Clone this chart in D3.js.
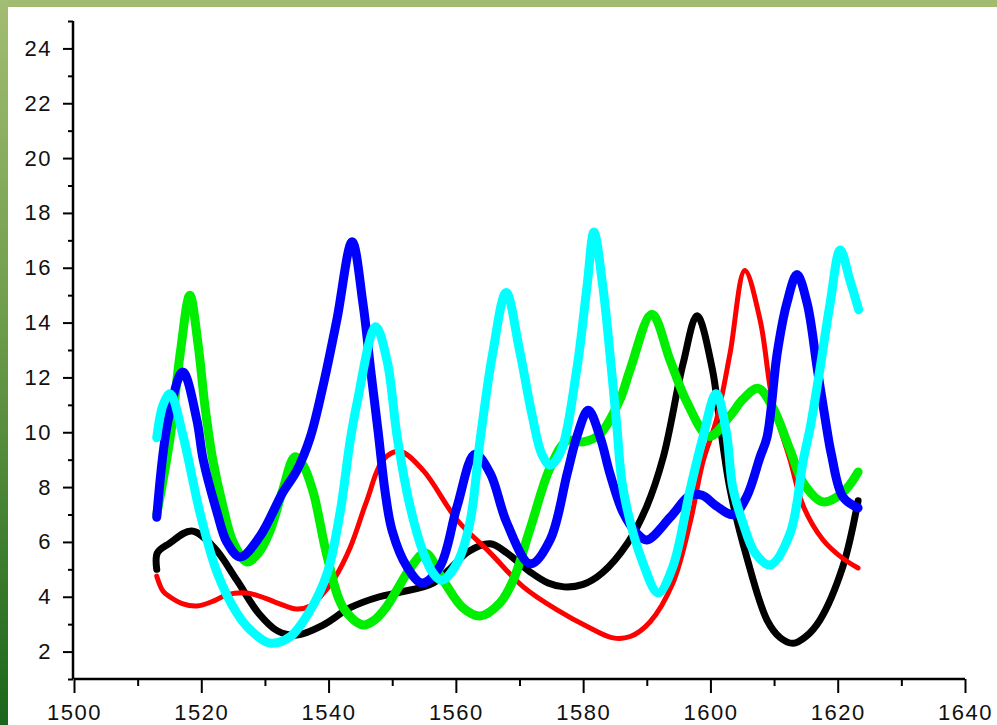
<!DOCTYPE html>
<html>
<head>
<meta charset="utf-8">
<script src="https://cdn.jsdelivr.net/npm/d3@7/dist/d3.min.js"></script>
<style>
html,body{margin:0;padding:0;background:#fff;}
svg{display:block;}
text{font-family:"Liberation Sans",Arial,sans-serif;}
</style>
</head>
<body>
<svg id="chart" width="997" height="725"></svg>
<script>
// ---- data (year, value) ----
const xTicks = [1500,1520,1540,1560,1580,1600,1620,1640];
const yTicks = [2,4,6,8,10,12,14,16,18,20,22,24];

const black = [[1513,5.0],[1513.1,5.6],[1515,5.95],[1518.5,6.4],[1522,5.8],[1525.6,4.6],[1529,3.4],[1532,2.75],[1535,2.6],[1539,2.95],[1543.4,3.6],[1548,4.0],[1551,4.15],[1556.4,4.5],[1559,5.0],[1562,5.65],[1565.4,5.93],[1568,5.6],[1571.7,4.9],[1574.5,4.5],[1577,4.36],[1580,4.45],[1583,4.87],[1587,5.96],[1590,7.3],[1592.6,9.1],[1595.7,12.5],[1597.9,14.25],[1600.3,12.3],[1601.5,10.3],[1603.1,7.9],[1605.7,5.45],[1608.9,3.15],[1611,2.5],[1613,2.3],[1615,2.55],[1617.2,3.15],[1620.8,5.1],[1623.2,7.5]];

const red = [[1513,4.75],[1514,4.2],[1515.1,3.99],[1517,3.75],[1519.3,3.66],[1522,3.85],[1524,4.07],[1527.2,4.14],[1530,3.95],[1532,3.77],[1535,3.55],[1537,3.65],[1538.7,4.0],[1541,4.7],[1543.4,5.8],[1546,7.5],[1548.6,9.0],[1551.2,9.3],[1554.9,8.6],[1560.2,6.8],[1565.4,5.6],[1570.6,4.36],[1575.9,3.52],[1581.1,2.86],[1584.7,2.5],[1587.4,2.55],[1590.5,3.08],[1594.1,4.5],[1596.8,6.7],[1598.8,8.9],[1601,10.5],[1603.1,12.9],[1605.4,15.9],[1607.8,14.1],[1609.8,11.1],[1612.5,9.0],[1614.6,7.3],[1617.7,6.07],[1620.8,5.4],[1623.2,5.05]];

const green = [[1513,7.0],[1515.1,9.8],[1516.7,12.9],[1518.2,15.0],[1519.5,13.2],[1520.6,10.9],[1521.8,9.0],[1523.4,7.3],[1525,6.0],[1527.2,5.27],[1529,5.6],[1530.8,6.4],[1532.8,7.9],[1534.7,9.1],[1536,8.8],[1537.6,7.8],[1539.8,5.45],[1542.3,3.6],[1545.4,2.97],[1547.2,3.15],[1549,3.6],[1551,4.35],[1553,5.1],[1555.2,5.6],[1558,4.6],[1561.1,3.6],[1563.8,3.3],[1566.9,3.77],[1569,4.6],[1571.7,6.5],[1574.8,8.7],[1577.5,9.7],[1580,9.65],[1582.5,9.9],[1585.8,11.2],[1587.4,12.3],[1590.8,14.3],[1593.7,12.6],[1596.3,11.1],[1599.8,9.85],[1603.1,10.6],[1605.1,11.2],[1607.5,11.6],[1609.8,10.9],[1612.5,9.36],[1614.6,8.15],[1617.7,7.46],[1620.8,7.8],[1623.2,8.55]];

const blue = [[1513,6.9],[1514.8,10.45],[1517.1,12.2],[1519.3,10.45],[1520.3,9.0],[1522.5,7.06],[1524,6.0],[1526.1,5.45],[1529.2,6.2],[1532.8,7.8],[1535,8.6],[1537.1,9.8],[1539.1,11.66],[1541.3,14.1],[1543.7,16.95],[1545.4,14.7],[1546.6,12.3],[1547.8,10.0],[1548.9,7.8],[1550,6.4],[1552.3,5.1],[1554.7,4.5],[1557.5,5.1],[1560.2,7.3],[1563,9.2],[1565.4,8.5],[1568,6.7],[1571.7,5.2],[1574.8,6.07],[1577.5,8.5],[1579,9.83],[1580.8,10.8],[1582.7,9.8],[1584.2,8.5],[1586.3,7.06],[1588.5,6.3],[1590,6.07],[1593.7,6.9],[1596.8,7.7],[1598.7,7.7],[1601,7.3],[1603.6,7.0],[1605.7,7.65],[1607.8,9.1],[1608.9,9.83],[1610.5,12.9],[1612,14.7],[1613.6,15.75],[1615.2,14.7],[1616.8,12.3],[1618.3,10.1],[1619,9.2],[1620.8,7.65],[1623.2,7.24]];

const cyan = [[1513,9.8],[1514,11.0],[1515.1,11.4],[1517.1,9.9],[1519.8,7.06],[1522.5,4.87],[1525.6,3.4],[1527.7,2.79],[1530.8,2.31],[1533.9,2.53],[1537.1,3.5],[1539.8,4.87],[1541.8,7.06],[1543.4,9.7],[1544.5,11.1],[1547.4,13.85],[1549.2,12.6],[1550.8,9.8],[1552.8,7.3],[1554.9,5.6],[1556.4,4.87],[1557.8,4.6],[1560.2,5.23],[1562.2,6.7],[1563.8,9.7],[1565.8,12.9],[1567.9,15.1],[1570,13.0],[1572,10.6],[1573.5,9.2],[1574.8,8.8],[1576.5,9.3],[1579,12.3],[1580.6,15.3],[1581.7,17.3],[1583.1,15.3],[1584.2,12.9],[1585.3,10.2],[1586.3,7.9],[1589.4,5.23],[1591.8,4.14],[1594.1,5.1],[1596.8,7.9],[1598.7,9.7],[1600.9,11.4],[1602.5,10.0],[1603.5,8.0],[1605.1,6.7],[1607,5.6],[1609.4,5.16],[1612.5,6.3],[1614.6,9.0],[1615.7,10.2],[1617.2,12.3],[1618.8,14.7],[1620.4,16.65],[1621.9,15.56],[1623.3,14.47]];

const seriesList = [
  {data: black, color: "#000000", width: 7},
  {data: red,   color: "#ff0000", width: 5},
  {data: green, color: "#00ee00", width: 9},
  {data: blue,  color: "#0000ff", width: 9},
  {data: cyan,  color: "#00ffff", width: 9}
];

// ---- drawing ----
const svg = d3.select("#chart");
const W = 997, H = 725;

const defs = svg.append("defs");
const lg = defs.append("linearGradient").attr("id","leftGrad").attr("x1",0).attr("y1",0).attr("x2",0).attr("y2",1);
lg.append("stop").attr("offset","0%").attr("stop-color","#a3bd72");
lg.append("stop").attr("offset","45%").attr("stop-color","#6c9c4a");
lg.append("stop").attr("offset","100%").attr("stop-color","#1a661a");

svg.append("rect").attr("x",0).attr("y",0).attr("width",W).attr("height",H).attr("fill","#fff");
svg.append("rect").attr("x",0).attr("y",0).attr("width",W).attr("height",7).attr("fill","#a1bc70");
svg.append("rect").attr("x",0).attr("y",0).attr("width",8).attr("height",H).attr("fill","url(#leftGrad)");

const x = d3.scaleLinear().domain([1500,1640]).range([74,965]);
const y = d3.scaleLinear().domain([1,25]).range([679,21]);

const line = d3.line()
  .x(d => x(d[0]))
  .y(d => y(d[1]))
  .curve(d3.curveCatmullRom.alpha(0.5));

const g = svg.append("g");
seriesList.forEach(s => {
  g.append("path")
    .attr("d", line(s.data))
    .attr("fill","none")
    .attr("stroke", s.color)
    .attr("stroke-width", s.width)
    .attr("stroke-linejoin","round")
    .attr("stroke-linecap","round");
});

// axes
const xAxis = d3.axisBottom(x).tickValues(xTicks).tickFormat(d3.format("d")).tickSize(14).tickPadding(11);
const xMinor = d3.axisBottom(x).tickValues(d3.range(1510,1640,20)).tickFormat("").tickSize(7);
const yAxis = d3.axisLeft(y).tickValues(yTicks).tickFormat(d3.format("d")).tickSize(10).tickPadding(11);
const yMinor = d3.axisLeft(y).tickValues(d3.range(1,26,2)).tickFormat("").tickSize(5);

function styleAxis(sel){
  sel.select(".domain").attr("stroke","#000").attr("stroke-width",2.5);
  sel.selectAll(".tick line").attr("stroke","#000").attr("stroke-width",2);
  sel.selectAll("text").attr("fill","#111").style("font-size","22px").style("letter-spacing","1.5px")
     .style("font-family","'Liberation Sans', Arial, sans-serif");
}

const gx = svg.append("g").attr("transform","translate(0,679)").call(xAxis);
gx.select(".domain").attr("d","M74,0H965");
styleAxis(gx);
const gxm = svg.append("g").attr("transform","translate(0,679)").call(xMinor);
gxm.select(".domain").remove();
styleAxis(gxm);

const gy = svg.append("g").attr("transform","translate(73,0)").call(yAxis);
gy.select(".domain").attr("d","M0,21V679");
styleAxis(gy);
const gym = svg.append("g").attr("transform","translate(73,0)").call(yMinor);
gym.select(".domain").remove();
styleAxis(gym);
</script>
</body>
</html>
